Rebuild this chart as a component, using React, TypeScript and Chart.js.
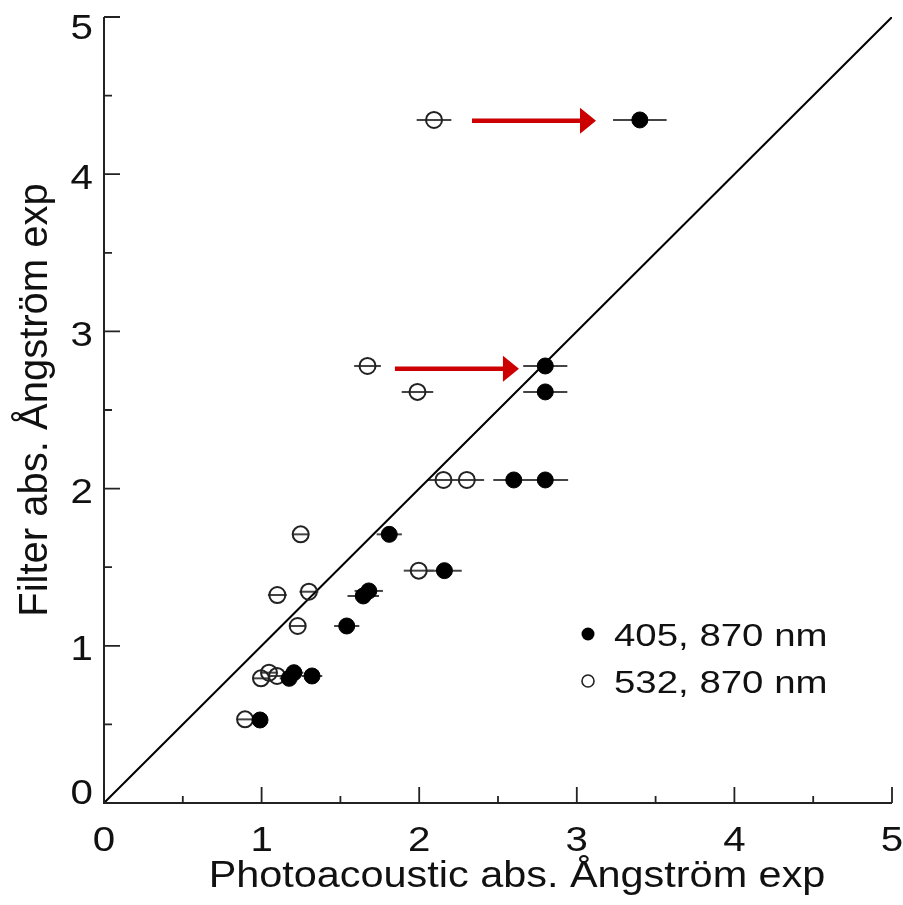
import React, { useEffect, useRef } from "react";
import { Chart, registerables } from "chart.js";
Chart.register(...registerables);

// 405, 870 nm (filled)
const filledX = [3.40, 2.80, 2.80, 2.60, 2.80, 1.81, 2.16, 1.645, 1.68, 1.54, 1.175, 1.205, 1.32, 0.99];
const filledY = [4.345, 2.78, 2.615, 2.055, 2.055, 1.709, 1.478, 1.317, 1.349, 1.126, 0.793, 0.829, 0.808, 0.528];
const filledErr = [0.17, 0.14, 0.14, 0.13, 0.145, 0.08, 0.11, 0.1, 0.09, 0.08, 0.06, 0.06, 0.065, 0.04];

// 532, 870 nm (open)
const openX = [2.094, 1.672, 1.989, 2.154, 2.302, 1.248, 1.997, 1.10, 1.30, 1.229, 0.996, 1.047, 1.098, 0.895];
const openY = [4.345, 2.78, 2.615, 2.055, 2.055, 1.709, 1.478, 1.323, 1.344, 1.126, 0.793, 0.829, 0.808, 0.532];
const openErr = [0.11, 0.085, 0.1, 0.1, 0.11, 0.05, 0.095, 0.06, 0.06, 0.05, 0.05, 0.05, 0.05, 0.05];

// 1:1 line
const diagX = [0, 5];
const diagY = [0, 5];

// red arrows
const arrowStartX = [2.335, 1.846];
const arrowTipX = [3.122, 2.633];
const arrowY = [4.34, 2.762];

const tickValues = [0, 1, 2, 3, 4, 5];
const tickLabels = ["0", "1", "2", "3", "4", "5"];
const minorTickValues = [0.5, 1.5, 2.5, 3.5, 4.5];

const xTitle = "Photoacoustic abs. Ångström exp";
const yTitle = "Filter abs. Ångström exp";
const legendLabels = ["405, 870 nm", "532, 870 nm"];

const FONT = '"Liberation Sans", Arial, Helvetica, sans-serif';

function stretchText(
  ctx: CanvasRenderingContext2D,
  text: string,
  x: number,
  y: number,
  size: number,
  sx: number,
  align: CanvasTextAlign
) {
  ctx.save();
  ctx.font = `${size}px ${FONT}`;
  ctx.textAlign = align;
  ctx.textBaseline = "alphabetic";
  ctx.fillStyle = "#111";
  ctx.translate(x, y);
  ctx.scale(sx, 1);
  ctx.fillText(text, 0, 0);
  ctx.restore();
}

const decorPlugin = {
  id: "decor",
  beforeDatasetsDraw(chart: any) {
    const ctx: CanvasRenderingContext2D = chart.ctx;
    const xs = chart.scales.x;
    const ys = chart.scales.y;
    ctx.save();
    // error bars
    ctx.strokeStyle = "#444";
    ctx.lineWidth = 2;
    const bars = (X: number[], Y: number[], E: number[]) => {
      for (let i = 0; i < X.length; i++) {
        const y = ys.getPixelForValue(Y[i]);
        ctx.beginPath();
        ctx.moveTo(xs.getPixelForValue(X[i] - E[i]), y);
        ctx.lineTo(xs.getPixelForValue(X[i] + E[i]), y);
        ctx.stroke();
      }
    };
    bars(openX, openY, openErr);
    bars(filledX, filledY, filledErr);
    // arrows
    ctx.strokeStyle = "#cc0000";
    ctx.fillStyle = "#cc0000";
    for (let i = 0; i < arrowStartX.length; i++) {
      const x0 = xs.getPixelForValue(arrowStartX[i]);
      const x1 = xs.getPixelForValue(arrowTipX[i]);
      const y = ys.getPixelForValue(arrowY[i]);
      const headLen = 16;
      const headHalf = 13;
      ctx.lineWidth = 4.5;
      ctx.beginPath();
      ctx.moveTo(x0, y);
      ctx.lineTo(x1 - headLen + 1, y);
      ctx.stroke();
      ctx.beginPath();
      ctx.moveTo(x1, y);
      ctx.lineTo(x1 - headLen, y - headHalf);
      ctx.lineTo(x1 - headLen, y + headHalf);
      ctx.closePath();
      ctx.fill();
    }
    ctx.restore();
  },
  afterDraw(chart: any) {
    const ctx: CanvasRenderingContext2D = chart.ctx;
    const xs = chart.scales.x;
    const ys = chart.scales.y;
    const { left, right, top, bottom } = chart.chartArea;
    ctx.save();
    ctx.strokeStyle = "#222";
    ctx.lineWidth = 2;
    ctx.lineCap = "butt";
    // axis lines
    ctx.beginPath();
    ctx.moveTo(left, top);
    ctx.lineTo(left, bottom);
    ctx.lineTo(right, bottom);
    ctx.stroke();
    // ticks (inward)
    ctx.lineWidth = 1.8;
    tickValues.forEach((v) => {
      const px = xs.getPixelForValue(v);
      const py = ys.getPixelForValue(v);
      ctx.beginPath();
      ctx.moveTo(px, bottom);
      ctx.lineTo(px, bottom - 16);
      ctx.moveTo(left, py);
      ctx.lineTo(left + 16, py);
      ctx.stroke();
    });
    minorTickValues.forEach((v) => {
      const px = xs.getPixelForValue(v);
      const py = ys.getPixelForValue(v);
      ctx.beginPath();
      ctx.moveTo(px, bottom);
      ctx.lineTo(px, bottom - 7);
      ctx.moveTo(left, py);
      ctx.lineTo(left + 8, py);
      ctx.stroke();
    });
    ctx.restore();

    // tick labels
    tickValues.forEach((v, i) => {
      const px = xs.getPixelForValue(v);
      stretchText(ctx, tickLabels[i], px, bottom + 48, 35, 1.15, "center");
      const py = ys.getPixelForValue(v);
      let base = py + 14.5;
      if (base > bottom + 1) base = bottom + 1;
      if (base < top + 22) base = top + 22;
      stretchText(ctx, tickLabels[i], left - 11, base, 35, 1.15, "right");
    });

    // x title
    stretchText(ctx, xTitle, (left + right) / 2 + 19, bottom + 84, 36, 1.15, "center");

    // y title
    ctx.save();
    ctx.font = `40px ${FONT}`;
    ctx.fillStyle = "#111";
    ctx.textAlign = "center";
    ctx.textBaseline = "alphabetic";
    ctx.translate(47, (top + bottom) / 2 - 10);
    ctx.rotate(-Math.PI / 2);
    ctx.fillText(yTitle, 0, 0);
    ctx.restore();

    // legend
    const lx = 588;
    const rows = [634, 681];
    ctx.save();
    ctx.beginPath();
    ctx.arc(lx, rows[0], 6.5, 0, Math.PI * 2);
    ctx.fillStyle = "#000";
    ctx.fill();
    ctx.beginPath();
    ctx.arc(lx, rows[1], 6, 0, Math.PI * 2);
    ctx.lineWidth = 1.6;
    ctx.strokeStyle = "#222";
    ctx.stroke();
    ctx.restore();
    stretchText(ctx, legendLabels[0], 614, rows[0] + 12, 32, 1.2, "left");
    stretchText(ctx, legendLabels[1], 614, rows[1] + 12, 32, 1.2, "left");
  },
};

export default function App() {
  const ref = useRef<HTMLCanvasElement | null>(null);
  useEffect(() => {
    if (!ref.current) return;
    const chart = new Chart(ref.current, {
      type: "scatter",
      data: {
        datasets: [
          {
            label: legendLabels[0],
            data: filledX.map((x, i) => ({ x, y: filledY[i] })),
            pointRadius: 8,
            pointBackgroundColor: "#000",
            pointBorderColor: "#000",
            pointBorderWidth: 1,
            order: 1,
          },
          {
            label: legendLabels[1],
            data: openX.map((x, i) => ({ x, y: openY[i] })),
            pointRadius: 8,
            pointBackgroundColor: "rgba(0,0,0,0)",
            pointBorderColor: "#222",
            pointBorderWidth: 2,
            order: 2,
          },
          {
            type: "line",
            label: "1:1",
            data: diagX.map((x, i) => ({ x, y: diagY[i] })),
            borderColor: "#000",
            borderWidth: 2,
            pointRadius: 0,
            fill: false,
            order: 3,
          } as any,
        ],
      },
      options: {
        responsive: false,
        animation: false,
        events: [],
        layout: { autoPadding: false, padding: { left: 104, right: 11, top: 17, bottom: 102 } },
        plugins: { legend: { display: false }, tooltip: { enabled: false } },
        scales: {
          x: { type: "linear", min: 0, max: 5, display: false },
          y: { type: "linear", min: 0, max: 5, display: false },
        },
      } as any,
      plugins: [decorPlugin],
    });
    return () => chart.destroy();
  }, []);
  return (
    <div style={{ position: "absolute", left: 0, top: 0, width: 903, height: 905, overflow: "hidden" }}>
      <canvas
        ref={ref}
        width={903}
        height={905}
        style={{ display: "block", width: 903, height: 905 }}
      />
    </div>
  );
}
